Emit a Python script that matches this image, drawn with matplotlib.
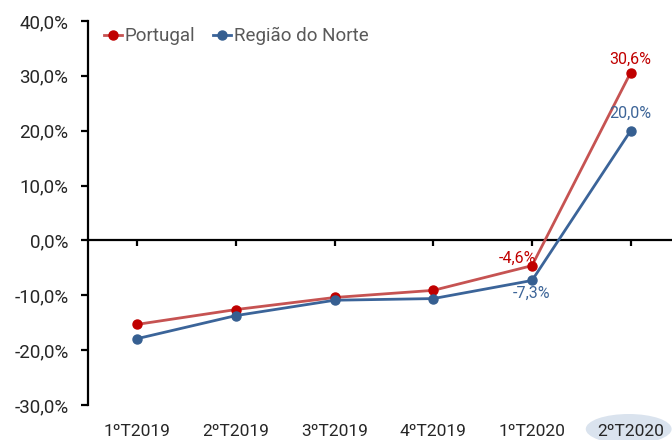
import matplotlib
matplotlib.use("Agg")
import matplotlib.pyplot as plt
from matplotlib.patches import Ellipse
from matplotlib.transforms import blended_transform_factory

categories = ["1ºT2019", "2ºT2019", "3ºT2019", "4ºT2019", "1ºT2020", "2ºT2020"]
portugal = [-15.3, -12.6, -10.4, -9.1, -4.6, 30.6]
norte = [-17.9, -13.7, -10.9, -10.6, -7.3, 20.0]
yticks = [-30, -20, -10, 0, 10, 20, 30, 40]

plt.rcParams['font.family'] = ['Roboto', 'DejaVu Sans']

fig = plt.figure(figsize=(6.72, 4.4), dpi=100)
W, H = 672, 440
ax = fig.add_axes([88 / W, 1 - 405 / H, (680 - 88) / W, (405 - 21) / H])

x = list(range(len(categories)))
ax.plot(x, portugal, color="#c65352", lw=2, marker="o", ms=6.5,
        mfc="#c00000", mec="#c00000", label="Portugal", zorder=3)
ax.plot(x, norte, color="#3b6499", lw=2, marker="o", ms=6.5,
        mfc="#365f91", mec="#365f91", label="Região do Norte", zorder=3)

ax.set_xlim(-0.5, 5.5)
ax.set_ylim(-30, 40)
ax.set_yticks(yticks)
ax.set_yticklabels([f"{v:.1f}%".replace(".", ",") for v in yticks],
                   fontsize=13.5, color="#262626")

for s in ["top", "right"]:
    ax.spines[s].set_visible(False)
ax.spines["bottom"].set_position(("data", 0))
ax.spines["bottom"].set_linewidth(1.6)
ax.spines["left"].set_linewidth(1.6)
ax.tick_params(axis="y", direction="out", length=5, width=1.6, pad=9)
ax.set_xticks(x)
ax.tick_params(axis="x", direction="out", length=4, width=1.6, labelbottom=False)

trans = blended_transform_factory(ax.transData, fig.transFigure)
ell = Ellipse((4.98, 1 - 429 / H), width=0.87, height=30 / H, transform=trans,
              facecolor="#dae3ee", edgecolor="none", zorder=0)
fig.patches.append(ell)
for i, c in enumerate(categories):
    fig.text(i, 1 - 431 / H, c, transform=trans, ha="center", va="center",
             fontsize=12.5, color="#262626")

red = "#c00000"
blue = "#3d6598"
ax.annotate("30,6%", (5, portugal[5]), xytext=(0, 4), textcoords="offset points",
            ha="center", va="bottom", color=red, fontsize=11.5)
ax.annotate("20,0%", (5, norte[5]), xytext=(0, 7), textcoords="offset points",
            ha="center", va="bottom", color=blue, fontsize=11.5)
ax.annotate("-4,6%", (4, portugal[4]), xytext=(3, 0), textcoords="offset points",
            ha="right", va="bottom", color=red, fontsize=11.5)
ax.annotate("-7,3%", (4, norte[4]), xytext=(0, -4), textcoords="offset points",
            ha="center", va="top", color=blue, fontsize=11.5)

leg = ax.legend(loc="upper left", bbox_to_anchor=(104 / W, 1 - 27 / H),
                bbox_transform=fig.transFigure, ncol=2, frameon=False,
                fontsize=13.5, handlelength=0.95, handletextpad=0.15,
                columnspacing=0.95, borderaxespad=0, borderpad=0)
for t in leg.get_texts():
    t.set_color("#595959")
for h in leg.legend_handles:
    h.set_markersize(6.5)

fig.savefig("out.png", dpi=100)
